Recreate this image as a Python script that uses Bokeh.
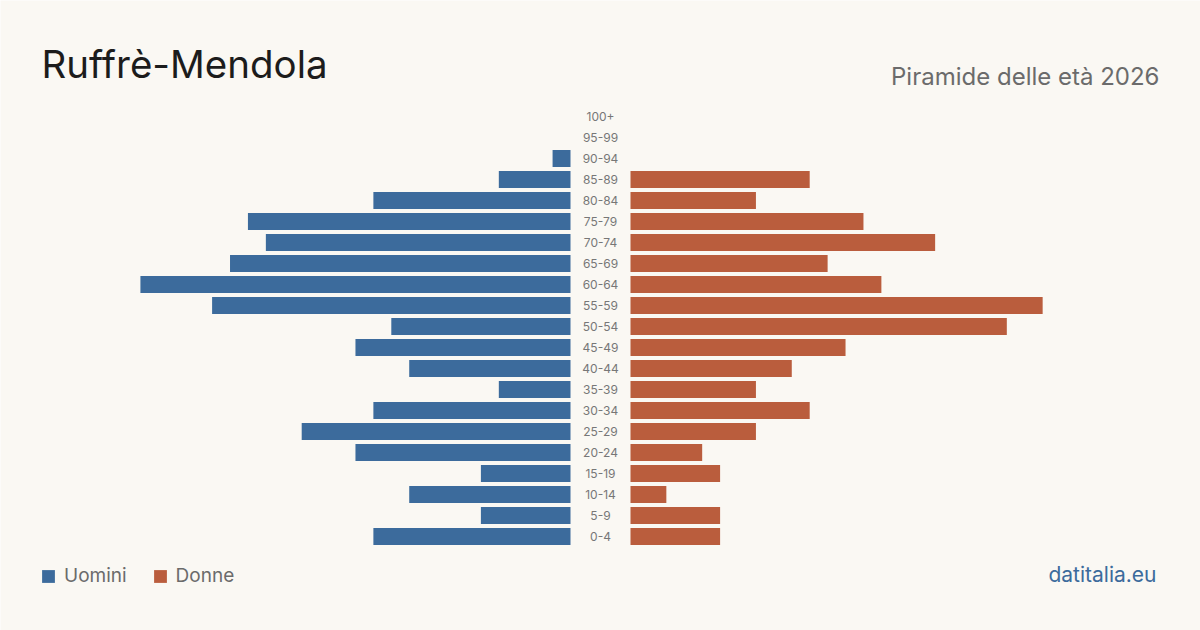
from bokeh.plotting import figure
from bokeh.models import ColumnDataSource, Range1d, Label, Legend, LegendItem
from bokeh.core.properties import value
from bokeh.embed import file_html
from bokeh.resources import INLINE

# ---- data ----
age_groups = ["0-4", "5-9", "10-14", "15-19", "20-24", "25-29", "30-34", "35-39",
              "40-44", "45-49", "50-54", "55-59", "60-64", "65-69", "70-74",
              "75-79", "80-84", "85-89", "90-94", "95-99", "100+"]
males = [11, 5, 9, 5, 12, 15, 11, 4, 9, 12, 10, 20, 24, 19, 17, 18, 11, 4, 1, 0, 0]
females = [5, 5, 2, 5, 4, 7, 10, 7, 9, 12, 21, 23, 14, 11, 17, 13, 7, 10, 0, 0, 0]
title_text = "Ruffrè-Mendola"
subtitle_text = "Piramide delle età 2026"
legend_labels = ["Uomini", "Donne"]
source_text = "datitalia.eu"

# ---- style ----
BG = "#faf8f3"
C_M = "#3c6b9c"
C_F = "#ba5d3d"
FONT = "Inter"
W, H = 1200, 630
PX_PER_UNIT = 17.92      # horizontal scale
ROW_PX = 21              # vertical spacing per age group
GAP = 30 / PX_PER_UNIT   # half-width of central label gap (data units)

idx = list(range(len(age_groups)))
src = ColumnDataSource(dict(
    y=idx,
    age=age_groups,
    m_left=[-(GAP + v) for v in males],
    m_right=[-GAP] * len(males),
    f_left=[GAP] * len(females),
    f_right=[GAP + v for v in females],
))

half_w = (W / 2) / PX_PER_UNIT
y_start = -(H - 536) / ROW_PX
p = figure(width=W, height=H, output_backend="svg", toolbar_location=None,
           x_range=Range1d(-half_w, half_w),
           y_range=Range1d(y_start, y_start + H / ROW_PX),
           min_border=0, background_fill_color=BG, border_fill_color=BG)
p.axis.visible = False
p.grid.visible = False
p.outline_line_color = None

bar_h = 17 / ROW_PX
rm = p.hbar(y="y", left="m_left", right="m_right", height=bar_h, source=src,
            fill_color=C_M, line_color=None)
rf = p.hbar(y="y", left="f_left", right="f_right", height=bar_h, source=src,
            fill_color=C_F, line_color=None)

p.text(x=0, y="y", text="age", source=src, text_align="center",
       text_baseline="middle", text_font=value(FONT), text_font_size="12px",
       text_color="#777777")

p.add_layout(Label(x=41, y=H - 63, x_units="screen", y_units="screen",
                   text=title_text, text_font=FONT, text_font_size="38.5px",
                   text_color="#1c1c1c", text_baseline="alphabetic"))
p.add_layout(Label(x=1159, y=H - 75.5, x_units="screen", y_units="screen",
                   text=subtitle_text, text_font=FONT, text_font_size="24px",
                   text_color="#6b6b6b", text_align="right",
                   text_baseline="alphabetic"))
p.add_layout(Label(x=1156, y=H - 573.5, x_units="screen", y_units="screen",
                   text=source_text, text_font=FONT, text_font_size="21px",
                   text_color=C_M, text_align="right",
                   text_baseline="alphabetic"))

legend = Legend(items=[LegendItem(label=legend_labels[0], renderers=[rm]),
                       LegendItem(label=legend_labels[1], renderers=[rf])],
                orientation="horizontal", location=(40, H - 587),
                padding=0, margin=0, spacing=25, label_standoff=8,
                glyph_width=16, glyph_height=16, label_height=16,
                label_text_font=FONT, label_text_font_size="19px",
                label_text_color="#6b6b6b", background_fill_alpha=0,
                border_line_alpha=0)
p.add_layout(legend)

open("out.html", "w").write(file_html(p, INLINE))
